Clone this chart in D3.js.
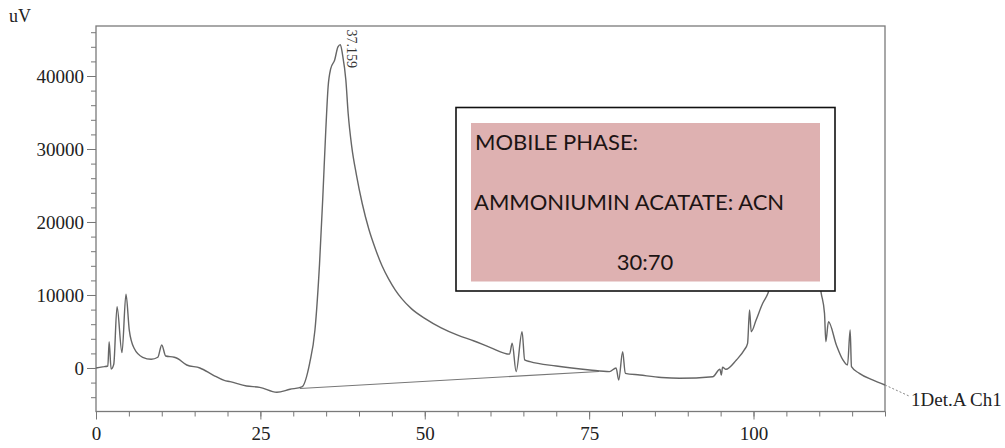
<!DOCTYPE html>
<html lang="en">
<head>
  <meta charset="UTF-8">
  <title>Chromatogram - mobile phase 30:70</title>
  <script src="https://d3js.org/d3.v7.min.js"></script>
  <style>
    body {
      margin: 0;
      background: #fff;
      overflow: hidden;
    }
    .axis text {
      font-family: "Liberation Serif", "Times New Roman", serif;
      font-size: 19px;
      fill: #222;
    }
    .axis line {
      stroke: #777;
    }
    .axis path {
      display: none;
    }
    .frame {
      fill: none;
      stroke: #7a7a7a;
      stroke-width: 1.3;
    }
    .trace {
      fill: none;
      stroke: #666;
      stroke-width: 1.4;
    }
    .baseline {
      stroke: #777;
      stroke-width: 1.1;
    }
    .note text {
      font-family: Lato, "Open Sans", sans-serif;
      font-size: 22px;
      fill: #1c1414;
    }
  </style>
</head>
<body>
  <svg id="chart" width="1005" height="448"></svg>

  <script>
    // retention time (min) and detector signal (uV)
    const retentionTime = [
      0, 1.0, 1.8, 2.0, 2.3, 2.7, 3.2, 3.95, 4.56, 5.06, 5.8, 7.1, 8.4, 9.4, 10.0, 10.6,
      11.9, 12.4, 13.8, 15.8, 17.8, 19.5, 20.4, 22.9, 24.9, 27.5, 29.5, 31.3,
      32.5, 33.3, 34.0, 34.5, 34.95, 35.3, 35.7, 36.3, 36.8, 37.16, 37.5, 38.0, 38.35,
      38.9, 39.6, 40.5, 41.5, 42.5, 43.5, 44.5, 45.5, 46.5, 48.0, 50.0, 52.5, 55.0, 57.5, 60.0,
      62.9, 63.3, 63.9, 64.8, 65.2, 66.0, 70.0, 75.1, 78.1, 79.1, 79.5, 80.1, 80.5,
      82.7, 86.0, 88.75, 93.8, 94.9, 95.1, 95.3, 95.8, 97.4, 98.6, 99.1, 99.4, 99.65,
      100.4, 101.4, 102.2, 103.5, 105.0, 107.0, 109.0, 110.3, 110.8, 111.0, 111.4,
      112.6, 113.6, 114.3, 114.7, 114.9, 116.1, 118.1, 120.0
    ];
    const signal = [
      0, 150, 270, 3600, -140, 500, 8400, 2100, 10100, 5200, 2700, 1470, 1190, 1470, 3150, 1640,
      1470, 1300, 410, 0, -960, -1700, -1870, -2470, -2650, -3330, -2920, -2600,
      680, 5200, 14300, 23500, 32600, 38500, 41000, 42200, 44000, 44300, 42900, 39450, 34900,
      30300, 26500, 22500, 19000, 16300, 14000, 12200, 10700, 9500, 8100, 6800, 5500, 4500, 3700, 2800,
      1900, 3380, -500, 4970, 1100, 870, 270, -270, -500, 0, -1640, 2230, -730,
      -960, -1300, -1410, -1190, -180, -960, 100, -180, 1100, 2470, 3380, 7950, 4970,
      6580, 8860, 10230, 15000, 20000, 22000, 18000, 10230, 7490, 3600, 6340,
      3150, 1100, 410, 5200, 180, -730, -1640, -2330
    ];

    // integration baseline under the main peak
    const baselineTime = [31.0, 76.5];
    const baselineSignal = [-2800, -470];

    const peakTime = 37.159;
    const peakSignal = 44300;

    const xMajorTicks = [0, 25, 50, 75, 100];
    const xMinorTicks = d3.range(0, 121, 5);
    const yMajorTicks = [0, 10000, 20000, 30000, 40000];
    const yMinorTicks = d3.range(-4000, 46001, 2000);

    const noteLines = ["MOBILE PHASE:", "AMMONIUMIN ACATATE: ACN", "30:70"];

    const width = 1005;
    const height = 448;
    const margin = {top: 26, right: 120, bottom: 36.5, left: 96};

    const svg = d3.select("#chart");

    const x = d3.scaleLinear()
      .domain([0, 120])
      .range([margin.left, width - margin.right]);

    const y = d3.scaleLinear()
      .domain([-5960, 46850])
      .range([height - margin.bottom, margin.top]);

    // minor ticks first, then major ones with labels
    svg.append("g")
      .attr("class", "axis")
      .attr("transform", `translate(${margin.left},0)`)
      .call(d3.axisLeft(y).tickValues(yMinorTicks).tickSize(5).tickFormat(""));

    svg.append("g")
      .attr("class", "axis")
      .attr("transform", `translate(${margin.left},0)`)
      .call(d3.axisLeft(y).tickValues(yMajorTicks).tickSize(9).tickPadding(3).tickFormat(d3.format("d")));

    svg.append("g")
      .attr("class", "axis")
      .attr("transform", `translate(0,${height - margin.bottom})`)
      .call(d3.axisBottom(x).tickValues(xMinorTicks).tickSize(5).tickFormat(""));

    svg.append("g")
      .attr("class", "axis")
      .attr("transform", `translate(0,${height - margin.bottom})`)
      .call(d3.axisBottom(x).tickValues(xMajorTicks).tickSize(8).tickPadding(7));

    // unit label
    svg.append("text")
      .attr("x", 9)
      .attr("y", 22)
      .style("font-family", "'Liberation Serif', serif")
      .style("font-size", "18px")
      .style("fill", "#222")
      .text("uV");

    // plot frame
    svg.append("rect")
      .attr("class", "frame")
      .attr("x", margin.left)
      .attr("y", margin.top)
      .attr("width", width - margin.left - margin.right)
      .attr("height", height - margin.top - margin.bottom);

    // baseline drawn under the peak
    svg.append("line")
      .attr("class", "baseline")
      .attr("x1", x(baselineTime[0]))
      .attr("y1", y(baselineSignal[0]))
      .attr("x2", x(baselineTime[1]))
      .attr("y2", y(baselineSignal[1]));

    const line = d3.line()
      .x(i => x(retentionTime[i]))
      .y(i => y(signal[i]))
      .curve(d3.curveMonotoneX);

    svg.append("path")
      .attr("class", "trace")
      .attr("d", line(d3.range(retentionTime.length)));

    // retention time label on the main peak
    svg.append("text")
      .attr("transform", `translate(${x(peakTime) + 7},${y(peakSignal) - 15}) rotate(90)`)
      .style("font-family", "'Liberation Serif', serif")
      .style("font-size", "14px")
      .style("fill", "#333")
      .text(peakTime.toFixed(3));

    // channel label with its leader
    const endT = retentionTime[retentionTime.length - 1];
    const endV = signal[signal.length - 1];
    svg.append("line")
      .attr("x1", x(endT))
      .attr("y1", y(endV))
      .attr("x2", x(endT) + 24)
      .attr("y2", y(endV) + 11)
      .attr("stroke", "#888")
      .attr("stroke-dasharray", "2,2");

    svg.append("text")
      .attr("x", x(endT) + 26)
      .attr("y", 406)
      .style("font-family", "'Liberation Serif', serif")
      .style("font-size", "19px")
      .style("fill", "#222")
      .text("1Det.A Ch1");

    // mobile phase note box (covers the late peak)
    const note = svg.append("g").attr("class", "note");

    note.append("rect")
      .attr("x", 456)
      .attr("y", 107.5)
      .attr("width", 379)
      .attr("height", 183.5)
      .attr("fill", "#fff")
      .attr("stroke", "#111")
      .attr("stroke-width", 1.6);

    note.append("rect")
      .attr("x", 471)
      .attr("y", 123)
      .attr("width", 349)
      .attr("height", 158.5)
      .attr("fill", "#deb1b1");

    note.append("text")
      .attr("x", 475)
      .attr("y", 150)
      .text(noteLines[0]);

    note.append("text")
      .attr("x", 474)
      .attr("y", 210)
      .text(noteLines[1]);

    note.append("text")
      .attr("x", 645)
      .attr("y", 270)
      .attr("text-anchor", "middle")
      .text(noteLines[2]);
  </script>
</body>
</html>
